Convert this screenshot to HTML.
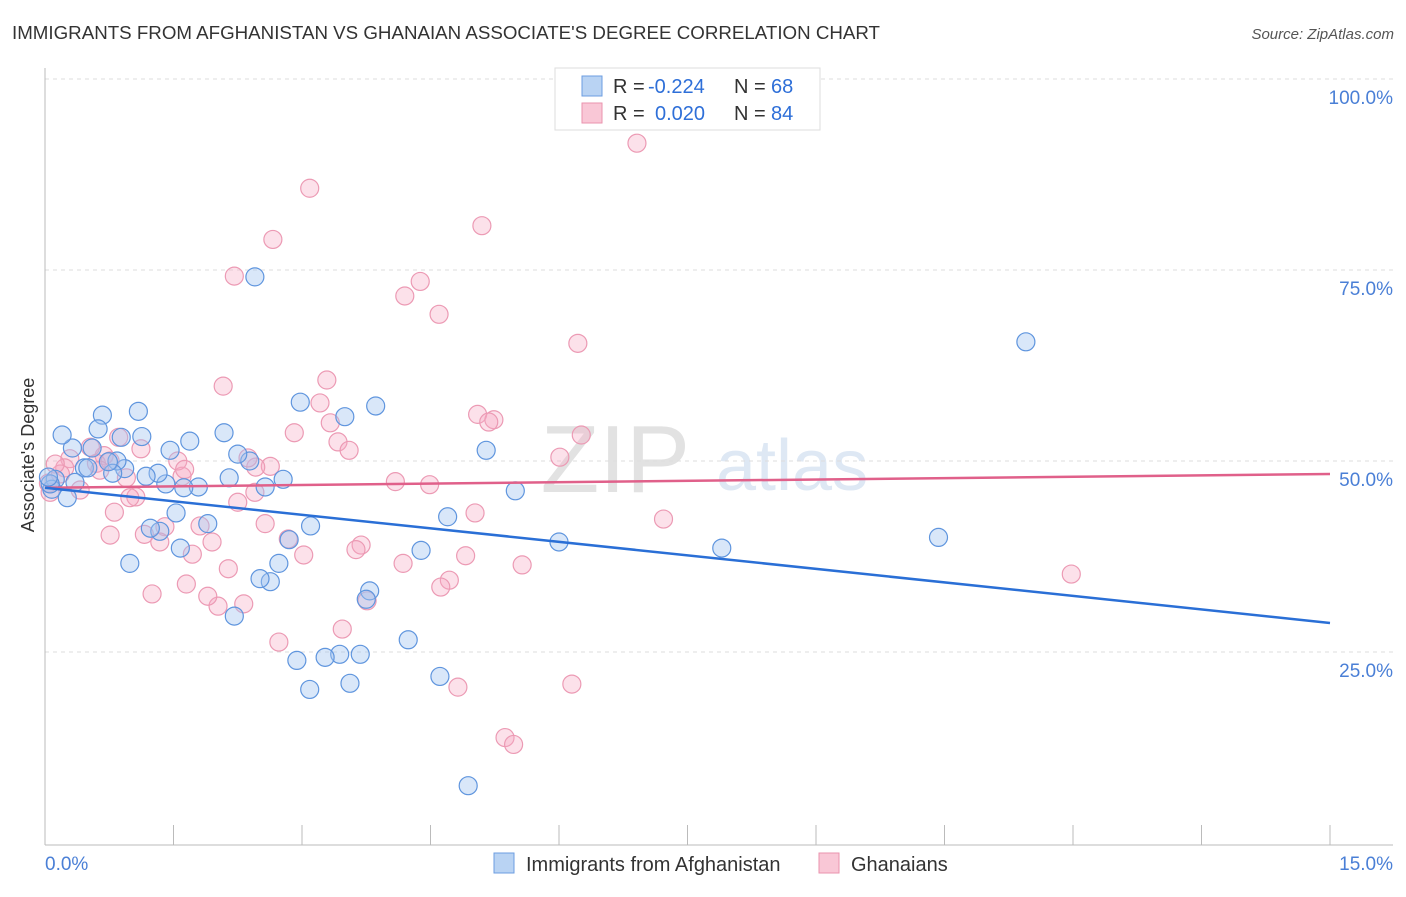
<!DOCTYPE html>
<html><head><meta charset="utf-8"><style>
body{margin:0;background:#fff;font-family:"Liberation Sans",sans-serif;}
svg text{font-family:"Liberation Sans",sans-serif;}
</style></head><body>
<svg id="chart" width="1406" height="892">
<text x="12" y="39" font-size="18" fill="#333" textLength="868" lengthAdjust="spacingAndGlyphs">IMMIGRANTS FROM AFGHANISTAN VS GHANAIAN ASSOCIATE'S DEGREE CORRELATION CHART</text>
<text x="1394" y="39" font-size="15" fill="#555" text-anchor="end" font-style="italic">Source: ZipAtlas.com</text>
<text x="690" y="492" font-size="96" fill="#d6d6d6" font-family="Liberation Serif" text-anchor="end" opacity="0.7">ZIP</text>
<text x="716" y="490" font-size="72" fill="#c9d9ee" opacity="0.6">atlas</text>
<g id="grid"></g><g id="axes"></g><g id="pts"></g><g id="lines"></g>
<text transform="translate(34,455) rotate(-90)" font-size="18" fill="#333" text-anchor="middle">Associate's Degree</text>
<g>
<rect x="555" y="68" width="265" height="62" fill="#fff" stroke="#ddd"/>
<rect x="582" y="76" width="20" height="20" fill="#b9d3f3" stroke="#6c9ee0"/>
<rect x="582" y="103" width="20" height="20" fill="#f9c7d6" stroke="#ea93ae"/>
<text x="613" y="93" font-size="20" fill="#333">R =</text>
<text x="648" y="93" font-size="20" fill="#2e6fd8">-0.224</text>
<text x="734" y="93" font-size="20" fill="#333">N =</text>
<text x="771" y="93" font-size="20" fill="#2e6fd8">68</text>
<text x="613" y="120" font-size="20" fill="#333">R =</text>
<text x="655" y="120" font-size="20" fill="#2e6fd8">0.020</text>
<text x="734" y="120" font-size="20" fill="#333">N =</text>
<text x="771" y="120" font-size="20" fill="#2e6fd8">84</text>
</g>
<g>
<rect x="494" y="853" width="20" height="20" fill="#b9d3f3" stroke="#6c9ee0"/>
<text x="526" y="871" font-size="20" fill="#333">Immigrants from Afghanistan</text>
<rect x="819" y="853" width="20" height="20" fill="#f9c7d6" stroke="#ea93ae"/>
<text x="851" y="871" font-size="20" fill="#333">Ghanaians</text>
</g>
</svg>
<script>
const xTicks=[0,1.5,3,4.5,6,7.5,9,10.5,12,13.5,15];
const yTicks=[25,50,75,100];
const blueX=[11.45,2.45,10.43,7.9,6.0,5.49,5.15,4.7,4.39,4.24,4.61,4.94,3.86,3.5,2.98,3.79,3.75,3.56,3.68,3.44,3.27,3.09,2.94,3.1,2.85,2.73,2.63,2.51,2.21,2.57,2.78,2.39,2.25,2.15,2.09,1.9,1.79,1.69,1.62,1.58,1.53,1.46,1.41,1.32,1.34,1.23,1.18,1.13,1.09,0.99,0.93,0.89,0.84,0.79,0.67,0.62,0.55,0.46,0.32,0.2,0.26,0.12,0.08,0.06,0.04,0.35,0.5,0.74];
const blueY=[65.6,74.1,40.0,38.6,39.4,46.1,51.4,42.7,38.3,26.6,21.8,7.5,57.2,55.8,57.7,33.0,31.9,20.9,24.7,24.7,24.3,20.1,23.9,41.5,39.7,36.6,34.2,34.6,29.7,46.6,47.6,50.0,50.9,47.8,53.7,41.8,46.6,52.6,46.5,38.6,43.2,51.4,47.0,48.4,40.8,41.2,48.0,53.2,56.5,36.6,49.0,53.1,50.0,48.4,56.0,54.2,51.7,49.1,51.7,53.4,45.2,47.6,46.3,47.0,47.9,47.2,49.1,49.9];
const pinkX=[6.91,3.09,5.1,2.66,2.21,4.38,4.2,4.6,6.22,2.08,3.29,3.21,3.33,3.42,3.55,2.91,5.05,5.24,5.18,6.26,6.01,4.09,4.49,7.22,11.98,5.02,4.91,5.57,4.72,4.62,4.18,3.69,3.63,3.02,2.84,2.57,2.63,2.46,2.37,2.45,2.25,2.14,2.32,2.02,1.9,1.95,1.81,1.72,1.65,1.6,1.55,1.4,1.34,1.25,1.16,1.12,1.06,0.99,0.95,0.86,0.81,0.76,0.69,0.6,0.53,0.41,0.29,0.23,0.18,0.12,0.06,0.04,2.73,3.47,3.76,4.82,5.37,5.47,6.15,0.76,0.64,1.63];
const pinkY=[91.6,85.7,80.8,79.0,74.2,73.5,71.6,69.2,65.4,59.8,60.6,57.6,55.0,52.5,51.4,53.7,56.1,55.4,55.1,53.4,50.5,47.3,46.9,42.4,35.2,43.2,37.6,36.4,34.4,33.5,36.6,39.0,38.4,37.7,39.8,41.8,49.3,49.2,50.4,45.9,44.6,35.9,31.3,31.0,32.3,39.4,41.5,37.8,33.9,48.0,50.0,41.4,39.4,32.6,40.4,51.6,45.3,45.2,47.8,53.1,43.3,40.3,50.7,49.7,51.8,46.2,50.3,49.1,48.3,49.6,45.9,47.1,26.3,28.0,31.7,20.4,13.8,12.9,20.8,50.0,48.8,48.9];
const blueLine=[46.5,28.8], pinkLine=[46.5,48.3];
const X=v=>45+v*(1330-45)/15, Y=v=>843-v*(843-79)/100;
const NS='http://www.w3.org/2000/svg';
function mk(t,a,p){const e=document.createElementNS(NS,t);for(const k in a)e.setAttribute(k,a[k]);document.getElementById(p).appendChild(e);return e;}
let e=mk('line',{x1:45,y1:68,x2:45,y2:845,stroke:'#bbb'},'axes');


e=mk('line',{x1:45,y1:845,x2:1393,y2:845,stroke:'#bbb'},'axes');


yTicks.forEach(t=>{
 let g=mk('line',{x1:45,y1:Y(t),x2:1393,y2:Y(t),stroke:'#ddd','stroke-dasharray':'4,4'},'grid');
 
 
 let l=mk('text',{x:1393,y:Y(t)+25,'font-size':19,fill:'#4a7fd6','text-anchor':'end'},'axes');l.textContent=t.toFixed(1)+'%';
 
 
});
xTicks.forEach(t=>{
 let k=mk('line',{x1:X(t),y1:825,x2:X(t),y2:845,stroke:'#bbb'},'axes');
 
 
});
[[0,'0.0%',45,'start'],[15,'15.0%',1393,'end']].forEach(a=>{
 let l=mk('text',{x:a[2],y:870,'font-size':19,fill:'#4a7fd6','text-anchor':a[3]},'axes');l.textContent=a[1];
 
 
});
pinkX.forEach((v,i)=>{
 let c=mk('circle',{cx:X(v),cy:Y(pinkY[i]),r:9,fill:'rgba(246,170,195,0.35)',stroke:'#ec9ab4','stroke-width':1.2},'pts');
 
 
});
blueX.forEach((v,i)=>{
 let c=mk('circle',{cx:X(v),cy:Y(blueY[i]),r:9,fill:'rgba(160,196,240,0.4)',stroke:'#5f95de','stroke-width':1.2},'pts');
 
 
});
e=mk('line',{x1:X(0),y1:Y(pinkLine[0]),x2:X(15),y2:Y(pinkLine[1]),stroke:'#e0608a','stroke-width':2.5},'lines');


e=mk('line',{x1:X(0),y1:Y(blueLine[0]),x2:X(15),y2:Y(blueLine[1]),stroke:'#2a6fd6','stroke-width':2.5},'lines');


</script>
</body></html>
